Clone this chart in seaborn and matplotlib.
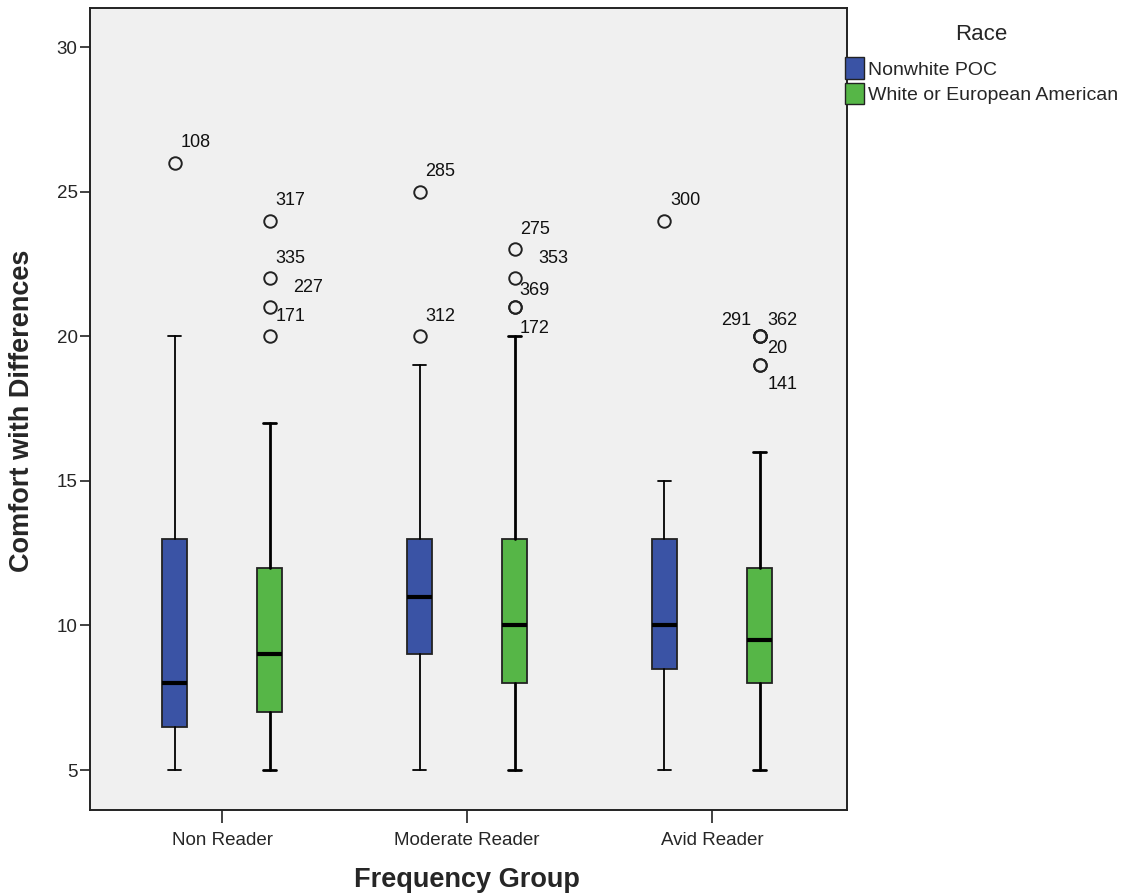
import numpy as np
import seaborn as sns
import matplotlib.pyplot as plt
from matplotlib.patches import Patch

groups = ['Non Reader', 'Moderate Reader', 'Avid Reader']
races = ['Nonwhite POC', 'White or European American']
colors = ['#3a53a5', '#56b647']

# box summaries (Non, Moderate, Avid)
poc_low = [5, 5, 5]
poc_q1 = [6.5, 9, 8.5]
poc_med = [8, 11, 10]
poc_q3 = [13, 13, 13]
poc_high = [20, 19, 15]
poc_outliers = [[26], [25, 20], [24]]
poc_cases = [[(26, '108')], [(25, '285'), (20, '312')], [(24, '300')]]

white_low = [5, 5, 5]
white_q1 = [7, 8, 8]
white_med = [9, 10, 9.5]
white_q3 = [12, 13, 12]
white_high = [17, 20, 16]
white_outliers = [[24, 22, 21, 20], [23, 22, 21, 21], [20, 20, 20, 19, 19]]
white_cases = [[(24, '317'), (22, '335'), (21, '227'), (20, '171')],
               [(23, '275'), (22, '353'), (21, '369'), (21, '172')],
               [(20, '291'), (20, '362'), (20, '20'), (19, '141')]]

# label offsets in pixels (dx to left edge, dy up)
label_offsets = {'227': (24, 20), '353': (24, 20), '172': (5, -21),
                 '291': (-38, 16), '362': (8, 16), '20': (8, -12),
                 '141': (8, -19), '369': (5, 17)}

sns.set_style('ticks')
plt.rcParams['font.family'] = ['Liberation Sans', 'DejaVu Sans']

fig = plt.figure(figsize=(11.25, 8.96), dpi=100)
ax = fig.add_axes([90 / 1125, 1 - 810 / 896, 757 / 1125, 802 / 896])
ax.set_facecolor('#f0f0f0')

offset = 0.194
series = [
    (poc_low, poc_q1, poc_med, poc_q3, poc_high, poc_outliers, poc_cases, -offset, 1.3),
    (white_low, white_q1, white_med, white_q3, white_high, white_outliers, white_cases, offset, 2.0),
]

for k, (lo, q1, med, q3, hi, outs, cases, dx, wlw) in enumerate(series):
    stats = []
    for i in range(len(groups)):
        stats.append({'whislo': lo[i], 'q1': q1[i], 'med': med[i], 'q3': q3[i],
                      'whishi': hi[i], 'fliers': np.array(outs[i])})
    pos = np.arange(len(groups)) + dx
    ax.bxp(stats, positions=pos, widths=0.1, patch_artist=True,
           boxprops=dict(facecolor=colors[k], edgecolor='#222222', linewidth=1.3),
           medianprops=dict(color='black', linewidth=3),
           whiskerprops=dict(color='black', linewidth=wlw),
           capprops=dict(color='black', linewidth=wlw),
           capwidths=0.053,
           flierprops=dict(marker='o', markerfacecolor='none', markeredgecolor='#222222',
                           markersize=9, markeredgewidth=1.4, linestyle='none'))
    for i in range(len(groups)):
        for val, case in cases[i]:
            ox, oy = label_offsets.get(case, (6, 20))
            ax.annotate(case, (pos[i], val), xytext=(ox * 0.72, oy * 0.72),
                        textcoords='offset points', ha='left', va='center',
                        fontsize=13, color='#111111')

ax.set_xlim(-0.539, 2.551)
ax.set_ylim(3.62, 31.35)
ax.set_xticks(range(len(groups)))
ax.set_xticklabels(groups, fontsize=13.5)
ax.set_yticks([5, 10, 15, 20, 25, 30])
ax.tick_params(axis='y', labelsize=13.5, length=7, width=1.2, color='#222222', pad=2)
ax.tick_params(axis='x', length=9, width=1.2, color='#222222', pad=7)
for s in ax.spines.values():
    s.set_color('#222222')
    s.set_linewidth(1.4)

ax.set_xlabel('Frequency Group', fontsize=19.5, fontweight='bold', va='center')
ax.set_ylabel('Comfort with Differences', fontsize=19.5, fontweight='bold', va='center')
ax.xaxis.set_label_coords(0.5 + (467 - 468.5) / 757, -(880 - 810) / 802)
ax.yaxis.set_label_coords(-(90 - 22) / 757, 0.5 + (409 - 411) / 802)

handles = [Patch(facecolor=colors[j], edgecolor='#222222', label=races[j]) for j in range(2)]
leg = fig.legend(handles=handles, title='Race', loc='upper left',
                 bbox_to_anchor=(845 / 1125, 1 - 24 / 896), frameon=False,
                 fontsize=14, title_fontsize=16, borderpad=0, borderaxespad=0,
                 handlelength=1.0, handleheight=1.3, handletextpad=0.2, labelspacing=0.22)
leg._legend_box.sep = 9

fig.savefig('out.png', dpi=100)
